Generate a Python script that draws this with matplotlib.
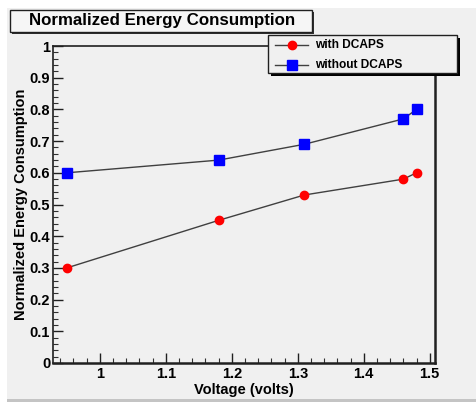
import matplotlib
matplotlib.use("Agg")
import matplotlib.pyplot as plt
from matplotlib.lines import Line2D
from matplotlib.patches import Rectangle
from matplotlib.ticker import MultipleLocator

voltage = [0.95, 1.18, 1.31, 1.46, 1.48]
with_dcaps = [0.30, 0.45, 0.53, 0.58, 0.60]
without_dcaps = [0.60, 0.64, 0.69, 0.77, 0.80]
series_labels = ["with DCAPS", "without DCAPS"]
x_ticks = [1.0, 1.1, 1.2, 1.3, 1.4, 1.5]
x_tick_labels = ["1", "1.1", "1.2", "1.3", "1.4", "1.5"]
y_ticks = [0.0, 0.1, 0.2, 0.3, 0.4, 0.5, 0.6, 0.7, 0.8, 0.9, 1.0]
y_tick_labels = ["0", "0.1", "0.2", "0.3", "0.4", "0.5", "0.6", "0.7", "0.8", "0.9", "1"]

W, H = 476, 404
plt.rcParams["font.family"] = ["Liberation Sans", "DejaVu Sans"]
plt.rcParams["font.weight"] = "bold"

fig = plt.figure(figsize=(W / 100, H / 100), dpi=100, facecolor="white")


def px(x0, y0, x1, y1):
    """pixel box (top-left origin) -> figure fraction rect"""
    return (x0 / W, 1 - y1 / H, (x1 - x0) / W, (y1 - y0) / H)


def box(rect, dx=0, dy=0, **kw):
    fig.patches.append(Rectangle((rect[0] + dx / W, rect[1] - dy / H), rect[2], rect[3],
                                 transform=fig.transFigure, **kw))


# canvas background
bg = "#f0f0f0"
box(px(7, 8, W, 399), facecolor=bg, edgecolor="none", zorder=-2)
box(px(7, 399, W, 402), facecolor="#c4c4c4", edgecolor="none", zorder=-2)

ax = fig.add_axes(px(53, 46, 435, 363))
ax.set_zorder(1)
ax.set_facecolor(bg)
ax.set_xlim(0.929, 1.508)
ax.set_ylim(0, 1)

line_kw = dict(color="#404040", linewidth=1.0)
ax.plot(voltage, with_dcaps, marker="o", markersize=6, markerfacecolor="#ff0000",
        markeredgecolor="#ff0000", **line_kw)
ax.plot(voltage, without_dcaps, marker="s", markersize=6.5, markerfacecolor="#0000ff",
        markeredgecolor="#0000ff", **line_kw)

ax.set_xticks(x_ticks, x_tick_labels)
ax.set_yticks(y_ticks, y_tick_labels)
ax.xaxis.set_minor_locator(MultipleLocator(0.02))
ax.yaxis.set_minor_locator(MultipleLocator(0.02))
ax.tick_params(which="major", direction="in", length=7, width=1.0, color="#202020",
               labelsize=10.5, pad=2)
ax.tick_params(which="minor", direction="in", length=3.5, width=0.8, color="#303030")
ax.tick_params(axis="x", pad=3)
for lab in ax.get_xticklabels() + ax.get_yticklabels():
    lab.set_fontweight("bold")
for side, lw in (("left", 1.2), ("bottom", 1.8), ("right", 1.8), ("top", 1.2)):
    ax.spines[side].set_linewidth(lw)
    ax.spines[side].set_color("#202020")

ax.set_xlabel("Voltage (volts)", fontsize=10.5, fontweight="bold", labelpad=1)
ax.set_ylabel("Normalized Energy Consumption", fontsize=10.5, fontweight="bold",
              labelpad=1)

# title box
tx = px(10, 10, 312, 32)
box(tx, 2, 2, facecolor="#303030", edgecolor="none", zorder=2)
box(tx, facecolor="#f6f6f6", edgecolor="#202020", linewidth=1.0, zorder=3)
fig.text(162 / W, 1 - 21 / H, "Normalized Energy Consumption", fontsize=12.2,
         fontweight="bold", ha="center", va="center", zorder=4)

# legend box with solid drop shadow
lg = px(268, 35, 457, 73)
box(lg, 3, 3, facecolor="black", edgecolor="none", zorder=5)
box(lg, facecolor=bg, edgecolor="#202020", linewidth=1.0, zorder=6)
entries = [("o", "#ff0000", 6, 45), ("s", "#0000ff", 6.5, 65)]
for (mk, col, ms, ypix), label in zip(entries, series_labels):
    y = 1 - ypix / H
    fig.add_artist(Line2D([275 / W, 308 / W], [y, y], transform=fig.transFigure,
                          zorder=7, **line_kw))
    fig.add_artist(Line2D([292 / W], [y], transform=fig.transFigure, marker=mk,
                          markersize=ms, markerfacecolor=col, markeredgecolor=col,
                          linestyle="none", zorder=8))
    fig.text(315 / W, y, label, fontsize=8.6, fontweight="bold", ha="left",
             va="center", zorder=8)

fig.savefig("out.png", dpi=100, facecolor="white")
